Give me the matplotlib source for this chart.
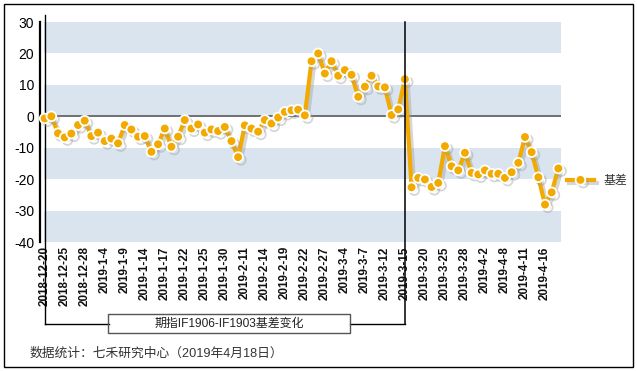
import matplotlib
matplotlib.use("Agg")
import matplotlib.pyplot as plt
import matplotlib.patheffects as pe
from matplotlib.lines import Line2D
from matplotlib.patches import Rectangle
import pandas as pd

plt.rcParams['font.family'] = ['Liberation Sans', 'Noto Sans CJK SC', 'DejaVu Sans']

# trading days 2018-12-20 .. 2019-04-18 (exchange holidays removed)
holidays = ['2018-12-31', '2019-01-01', '2019-02-04', '2019-02-05', '2019-02-06',
            '2019-02-07', '2019-02-08', '2019-04-05']
days = pd.bdate_range('2018-12-20', '2019-04-18')
days = days[~days.isin(pd.to_datetime(holidays))]
date_labels = [f"{d.year}-{d.month}-{d.day}" for d in days]

# basis IF1906-IF1903
basis = [-0.7, 0.0, -5.4, -6.7, -5.5, -2.8, -1.4, -6.3, -5.2, -7.9,
         -7.1, -8.6, -2.8, -4.2, -6.5, -6.3, -11.3, -8.9, -3.9, -9.7,
         -6.5, -1.2, -3.9, -2.6, -5.2, -4.2, -4.7, -3.4, -7.9, -13.0,
         -2.9, -3.9, -4.9, -1.2, -2.3, -0.4, 1.4, 1.9, 2.1, 0.3,
         17.5, 20.0, 13.6, 17.5, 12.9, 14.7, 13.2, 6.2, 9.4, 12.9,
         9.5, 9.2, 0.4, 2.2, 11.8, -22.6, -19.6, -20.1, -22.5, -21.2,
         -9.5, -15.9, -17.2, -11.6, -18.0, -18.5, -17.2, -18.3, -18.3, -19.6,
         -17.8, -14.8, -6.6, -11.4, -19.4, -28.1, -24.2, -16.6]

y_ticks = [-40, -30, -20, -10, 0, 10, 20, 30]
bands = [(20, 30), (0, 10), (-20, -10), (-40, -30)]
split_date = '2019-3-15'

W, H = 637, 371
fig = plt.figure(figsize=(W / 100, H / 100), dpi=100)
ax = fig.add_axes([44 / W, 1 - 242 / H, (561 - 44) / W, 220 / H])

x = list(range(len(basis)))
for lo, hi in bands:
    ax.axhspan(lo, hi, color='#D9E4EF', lw=0, zorder=0)
ax.axhline(0, color='#666666', lw=1.3, zorder=1)

ax.plot(x, basis, color='#F2A900', lw=3, marker='o', ms=7,
        mfc='#F2A900', mec='white', mew=1.3, label='基差', clip_on=False, zorder=3,
        path_effects=[pe.SimpleLineShadow(offset=(2, -2), shadow_color='#999999', alpha=0.4),
                      pe.Normal()])

ax.set_xlim(-0.1, 77.4)
ax.set_ylim(-40, 30)
ax.set_yticks(y_ticks)
ax.set_yticklabels([str(v) for v in y_ticks], fontsize=12, color='#333333')
ax.set_xticks(x[::3])
ax.set_xticklabels(date_labels[::3], rotation=90, fontsize=8.4, fontweight='bold',
                   va='top', ha='center', color='#111111')
ax.tick_params(length=0)
ax.tick_params(axis='y', pad=4)
ax.tick_params(axis='x', pad=3)
for s in ['top', 'right', 'bottom']:
    ax.spines[s].set_visible(False)
ax.spines['left'].set_linewidth(1.6)
ax.spines['left'].set_position(('outward', 3))

leg = ax.legend(loc='center left', bbox_to_anchor=(1.011, 0.277), frameon=False,
                fontsize=8.6, handlelength=2.3, handletextpad=0.8,
                borderpad=0, borderaxespad=0)
for t in leg.get_texts():
    t.set_color('#333333')

# bracket from first day to 2019-3-15 and title box
i_split = date_labels.index(split_date)
bracket_y = (242 - 324) / 220
tb = ax.get_xaxis_transform()
ax.add_line(Line2D([0, 0], [1 + 7 / 220, bracket_y], transform=tb, color='black', lw=1, clip_on=False))
ax.add_line(Line2D([i_split, i_split], [1, bracket_y], transform=tb, color='black', lw=1.1, clip_on=False, zorder=4))
box_l = (108 - 43.3) / 6.69
box_r = (350 - 43.3) / 6.69
ax.add_line(Line2D([0, box_l], [bracket_y, bracket_y], transform=tb, color='black', lw=1, clip_on=False))
ax.add_line(Line2D([box_r, i_split], [bracket_y, bracket_y], transform=tb, color='black', lw=1, clip_on=False))

fig.add_artist(Rectangle((108 / W, 1 - 333 / H), 242 / W, 19 / H, transform=fig.transFigure,
                         fill=False, ec='#555555', lw=1))
fig.text(229 / W, 1 - 323.5 / H, '期指IF1906-IF1903基差变化', ha='center', va='center',
         fontsize=8.6, color='#222222')
fig.text(30 / W, 1 - 354 / H, '数据统计：七禾研究中心（2019年4月18日）', ha='left', va='center',
         fontsize=9.2, color='#333333')

fig.add_artist(Rectangle((3.5 / W, 1 - 366.5 / H), 629 / W, 363 / H, transform=fig.transFigure,
                         fill=False, ec='black', lw=1))

fig.savefig('out.png', dpi=100)
